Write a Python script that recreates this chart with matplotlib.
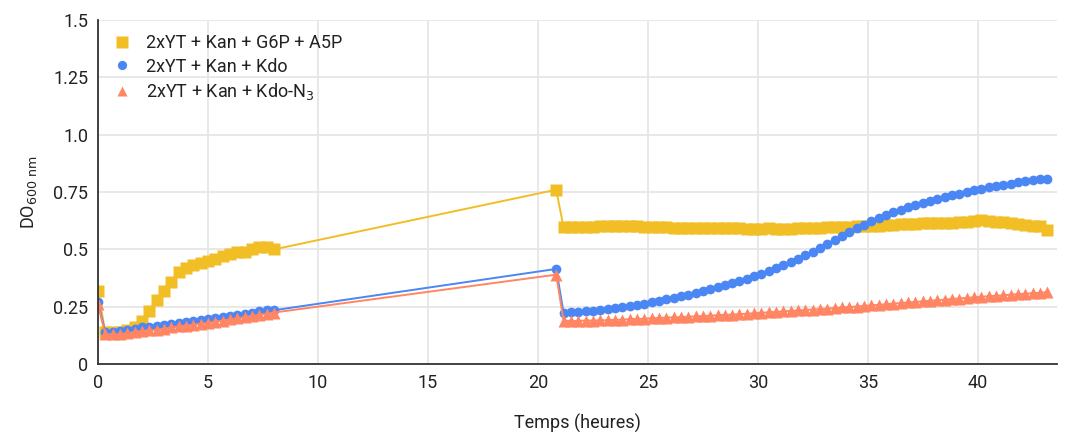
import numpy as np
import matplotlib
matplotlib.use('Agg')
import matplotlib.pyplot as plt

plt.rcParams['font.family'] = ['Roboto', 'DejaVu Sans']

# sampling every 20 min: 0-8 h, one point at 20.83 h, then 21.17-43.17 h
T_EARLY = np.arange(0, 481, 20) / 60
T_MID = [20 + 50 / 60]
T_LATE = (np.arange(0, 67) * 20 + 21 * 60 + 10) / 60

LABELS = ['2xYT + Kan + G6P + A5P', '2xYT + Kan + Kdo', '2xYT + Kan + Kdo-N$_3$']
COLORS = ['#f1be26', '#4a86f4', '#ff8563']
MARKERS = ['s', 'o', '^']
MSIZES = [9.2, 7.0, 8.0]

g6p_early = [0.32, 0.14, 0.14, 0.14, 0.15, 0.16, 0.19, 0.23, 0.28, 0.32, 0.36, 0.40, 0.42,
             0.43, 0.44, 0.45, 0.46, 0.47, 0.48, 0.49, 0.49, 0.50, 0.51, 0.51, 0.50]
kdo_early = [0.27, 0.14, 0.14, 0.145, 0.15, 0.155, 0.16, 0.163, 0.166, 0.17, 0.175, 0.18, 0.185,
             0.19, 0.193, 0.197, 0.20, 0.205, 0.21, 0.215, 0.22, 0.225, 0.23, 0.235, 0.235]
kdon3_early = [0.26, 0.13, 0.13, 0.13, 0.135, 0.14, 0.145, 0.148, 0.15, 0.155, 0.16, 0.165, 0.168,
               0.172, 0.176, 0.18, 0.185, 0.19, 0.195, 0.20, 0.205, 0.21, 0.215, 0.22, 0.225]

g6p_mid = [0.76]
kdo_mid = [0.415]
kdon3_mid = [0.39]

g6p_late = [0.597, 0.598, 0.598, 0.598, 0.599, 0.600, 0.600, 0.600, 0.600, 0.600, 0.600, 0.599,
            0.598, 0.597, 0.596, 0.595, 0.594, 0.594, 0.593, 0.593, 0.593, 0.592, 0.592, 0.592,
            0.592, 0.591, 0.591, 0.590, 0.593, 0.590, 0.590, 0.591, 0.592, 0.593, 0.594, 0.595,
            0.596, 0.597, 0.598, 0.599, 0.600, 0.601, 0.602, 0.604, 0.606, 0.607, 0.609, 0.610,
            0.612, 0.613, 0.614, 0.615, 0.616, 0.617, 0.619, 0.621, 0.622, 0.626, 0.624, 0.620,
            0.618, 0.616, 0.612, 0.608, 0.600, 0.602, 0.584]
kdo_late = [0.225, 0.226, 0.228, 0.230, 0.233, 0.236, 0.240, 0.244, 0.248, 0.253, 0.258, 0.264,
            0.270, 0.276, 0.282, 0.289, 0.296, 0.303, 0.311, 0.319, 0.327, 0.335, 0.344, 0.353,
            0.363, 0.373, 0.384, 0.395, 0.407, 0.419, 0.432, 0.446, 0.460, 0.475, 0.490, 0.507,
            0.524, 0.541, 0.558, 0.575, 0.592, 0.608, 0.623, 0.637, 0.650, 0.662, 0.673, 0.684,
            0.694, 0.703, 0.712, 0.720, 0.728, 0.735, 0.743, 0.750, 0.757, 0.764, 0.770, 0.776,
            0.782, 0.787, 0.792, 0.797, 0.801, 0.805, 0.808]
kdon3_late = [0.190, 0.188, 0.188, 0.190, 0.190, 0.191, 0.192, 0.193, 0.194, 0.196, 0.197, 0.198,
              0.200, 0.201, 0.203, 0.204, 0.205, 0.207, 0.208, 0.210, 0.211, 0.213, 0.215, 0.216,
              0.218, 0.220, 0.222, 0.224, 0.226, 0.228, 0.230, 0.232, 0.234, 0.236, 0.238, 0.240,
              0.242, 0.244, 0.247, 0.249, 0.251, 0.254, 0.256, 0.259, 0.261, 0.264, 0.266, 0.269,
              0.271, 0.274, 0.276, 0.279, 0.281, 0.284, 0.286, 0.289, 0.291, 0.294, 0.296, 0.298,
              0.300, 0.303, 0.305, 0.307, 0.309, 0.311, 0.314]

X_TICKS = [0, 5, 10, 15, 20, 25, 30, 35, 40]
Y_TICKS = [0, 0.25, 0.5, 0.75, 1.0, 1.25, 1.5]
Y_TICKLABELS = ['0', '0.25', '0.5', '0.75', '1.0', '1.25', '1.5']

t_all = np.concatenate([T_EARLY, T_MID, T_LATE])
series = [
    np.concatenate([g6p_early, g6p_mid, g6p_late]),
    np.concatenate([kdo_early, kdo_mid, kdo_late]),
    np.concatenate([kdon3_early, kdon3_mid, kdon3_late]),
]

fig = plt.figure(figsize=(10.67, 4.32), dpi=100)
ax = fig.add_axes([0.0918, 0.157, 0.8988, 0.797])

for y, lab, c, m, ms in zip(series, LABELS, COLORS, MARKERS, MSIZES):
    ax.plot(t_all, y, color=c, lw=1.4, marker=m, ms=ms, mec='none', label=lab, zorder=3)

ax.set_xlim(0, 43.6)
ax.set_ylim(0, 1.5)
ax.set_xticks(X_TICKS)
ax.set_yticks(Y_TICKS)
ax.set_yticklabels(Y_TICKLABELS)
ax.grid(True, color='#e6e6e6', lw=1.3, zorder=0)
ax.set_axisbelow(True)
ax.tick_params(length=0, labelsize=13, colors='#222222', pad=7)
ax.spines[['top', 'right']].set_visible(False)
ax.spines['left'].set_color('#333333')
ax.spines['bottom'].set_color('#333333')
ax.spines['left'].set_linewidth(1.3)
ax.spines['bottom'].set_linewidth(1.3)
ax.spines['left'].set_zorder(4)

ax.set_xlabel('Temps (heures)', fontsize=13, color='#222222', labelpad=16)
ax.set_ylabel('DO$_{600\\ \\mathrm{nm}}$', fontsize=13, color='#222222', labelpad=10)

leg_handles = [plt.Line2D([], [], ls='none', marker=m, ms=ms * 0.95, color=c, mec='none')
               for c, m, ms in zip(COLORS, MARKERS, MSIZES)]
ax.legend(leg_handles, LABELS, loc='upper left', bbox_to_anchor=(0.003, 0.995), frameon=False,
          fontsize=13, handlelength=1.0, handletextpad=0.8, labelspacing=0.3,
          borderaxespad=0.3, labelcolor='#222222')

fig.savefig('out.png', dpi=100)
